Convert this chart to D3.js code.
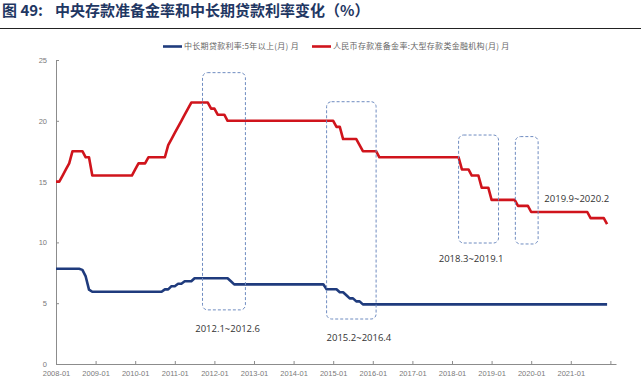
<!DOCTYPE html>
<html>
<head>
<meta charset="utf-8">
<script src="https://cdn.jsdelivr.net/npm/d3@7"></script>
<style>
  body { margin: 0; background: #fff; }
  svg { display: block; }
</style>
</head>
<body>
<script>
// monthly series, 2008-01 .. 2021-12 (one row per year)
var loanRate = [
  7.83,7.83,7.83,7.83,7.83,7.83,7.83,7.83,7.74,7.20,6.12,5.94,
  5.94,5.94,5.94,5.94,5.94,5.94,5.94,5.94,5.94,5.94,5.94,5.94,
  5.94,5.94,5.94,5.94,5.94,5.94,5.94,5.94,5.94,6.14,6.14,6.40,
  6.40,6.60,6.60,6.80,6.80,6.80,7.05,7.05,7.05,7.05,7.05,7.05,
  7.05,7.05,7.05,7.05,7.05,6.80,6.55,6.55,6.55,6.55,6.55,6.55,
  6.55,6.55,6.55,6.55,6.55,6.55,6.55,6.55,6.55,6.55,6.55,6.55,
  6.55,6.55,6.55,6.55,6.55,6.55,6.55,6.55,6.55,6.55,6.15,6.15,
  6.15,6.15,5.90,5.90,5.65,5.40,5.40,5.15,5.15,4.90,4.90,4.90,
  4.90,4.90,4.90,4.90,4.90,4.90,4.90,4.90,4.90,4.90,4.90,4.90,
  4.90,4.90,4.90,4.90,4.90,4.90,4.90,4.90,4.90,4.90,4.90,4.90,
  4.90,4.90,4.90,4.90,4.90,4.90,4.90,4.90,4.90,4.90,4.90,4.90,
  4.90,4.90,4.90,4.90,4.90,4.90,4.90,4.90,4.90,4.90,4.90,4.90,
  4.90,4.90,4.90,4.90,4.90,4.90,4.90,4.90,4.90,4.90,4.90,4.90,
  4.90,4.90,4.90,4.90,4.90,4.90,4.90,4.90,4.90,4.90,4.90,4.90
];
var rrrRate = [
  15.0,15.0,15.5,16.0,16.5,17.5,17.5,17.5,17.5,17.0,17.0,15.5,
  15.5,15.5,15.5,15.5,15.5,15.5,15.5,15.5,15.5,15.5,15.5,15.5,
  16.0,16.5,16.5,16.5,17.0,17.0,17.0,17.0,17.0,17.0,18.0,18.5,
  19.0,19.5,20.0,20.5,21.0,21.5,21.5,21.5,21.5,21.5,21.5,21.0,
  21.0,20.5,20.5,20.5,20.0,20.0,20.0,20.0,20.0,20.0,20.0,20.0,
  20.0,20.0,20.0,20.0,20.0,20.0,20.0,20.0,20.0,20.0,20.0,20.0,
  20.0,20.0,20.0,20.0,20.0,20.0,20.0,20.0,20.0,20.0,20.0,20.0,
  20.0,19.5,19.5,18.5,18.5,18.5,18.5,18.5,18.0,17.5,17.5,17.5,
  17.5,17.5,17.0,17.0,17.0,17.0,17.0,17.0,17.0,17.0,17.0,17.0,
  17.0,17.0,17.0,17.0,17.0,17.0,17.0,17.0,17.0,17.0,17.0,17.0,
  17.0,17.0,17.0,16.0,16.0,16.0,15.5,15.5,15.5,14.5,14.5,14.5,
  13.5,13.5,13.5,13.5,13.5,13.5,13.5,13.5,13.0,13.0,13.0,13.0,
  12.5,12.5,12.5,12.5,12.5,12.5,12.5,12.5,12.5,12.5,12.5,12.5,
  12.5,12.5,12.5,12.5,12.5,12.5,12.0,12.0,12.0,12.0,12.0,11.5
];
var yearLabels = ["2008-01","2009-01","2010-01","2011-01","2012-01","2013-01","2014-01",
                  "2015-01","2016-01","2017-01","2018-01","2019-01","2020-01","2021-01",""];
var yTicks = [0, 5, 10, 15, 20, 25];
var seriesNames = ["中长期贷款利率:5年以上(月) 月", "人民币存款准备金率:大型存款类金融机构(月) 月"];

// highlighted periods: month index range (from 2008-01) and value range
var boxX0 = [44.4, 82.0, 122.0, 139.2];
var boxX1 = [57.4, 97.0, 134.1, 146.1];
var boxY0 = [4.45, 3.70, 9.95, 9.87];
var boxY1 = [23.96, 21.57, 18.83, 18.70];
var boxLabels = ["2012.1~2012.6", "2015.2~2016.4", "2018.3~2019.1", "2019.9~2020.2"];
var labelX = [52.0, 91.8, 125.8, 157.8];
var labelY = [2.9, 2.2, 8.7, 13.6];

(function(){
    var width = 641, height = 386;
    var colors = ["#1f3b7d", "#d0141c"];

    var svg = d3.select("body").append("svg")
        .attr("width", width)
        .attr("height", height);

    // title (label part and text part) + rule
    var titleFont = "'Noto Sans CJK SC', sans-serif";
    svg.append("text")
        .attr("x", 2).attr("y", 16)
        .style("font-family", titleFont)
        .style("font-size", "15px")
        .style("font-weight", "bold")
        .style("fill", "#1f3763")
        .text("图 49:");
    svg.append("text")
        .attr("x", 55).attr("y", 16)
        .style("font-family", titleFont)
        .style("font-size", "15px")
        .style("font-weight", "bold")
        .style("fill", "#1f3763")
        .text("中央存款准备金率和中长期贷款利率变化（%）");
    svg.append("line")
        .attr("x1", 0).attr("x2", width)
        .attr("y1", 28.5).attr("y2", 28.5)
        .attr("stroke", "#222").attr("stroke-width", 1);

    var x = d3.scaleLinear().domain([0, 169.7]).range([56, 616]);
    var y = d3.scaleLinear().domain([0, 25]).range([364, 60]);

    // axes
    var xAxis = d3.axisBottom(x)
        .tickValues(d3.range(0, 169, 12))
        .tickFormat(function(d, i){ return yearLabels[i]; })
        .tickSizeInner(-3).tickSizeOuter(0).tickPadding(7);
    var gx = svg.append("g")
        .attr("transform", "translate(0,364)")
        .call(xAxis);

    var yAxis = d3.axisLeft(y)
        .tickValues(yTicks)
        .tickSizeInner(-3).tickSizeOuter(0).tickPadding(9);
    var gy = svg.append("g")
        .attr("transform", "translate(56,0)")
        .call(yAxis);

    [gx, gy].forEach(function(g){
        g.select(".domain").attr("stroke", "#8c8c8c");
        g.selectAll(".tick line").attr("stroke", "#8c8c8c");
        g.selectAll("text")
            .style("font-family", "'Liberation Sans', Arial, sans-serif")
            .style("font-size", "7.5px")
            .style("fill", "#7a7a7a");
    });

    // lines
    var line = d3.line()
        .x(function(d, i){ return x(i); })
        .y(function(d){ return y(d); });

    [loanRate, rrrRate].forEach(function(s, k){
        svg.append("path")
            .datum(s)
            .attr("fill", "none")
            .attr("stroke", colors[k])
            .attr("stroke-width", 2.6)
            .attr("stroke-linejoin", "round")
            .attr("d", line);
    });

    // dashed boxes
    boxLabels.forEach(function(t, i){
        svg.append("rect")
            .attr("x", x(boxX0[i]))
            .attr("y", y(boxY1[i]))
            .attr("width", x(boxX1[i]) - x(boxX0[i]))
            .attr("height", y(boxY0[i]) - y(boxY1[i]))
            .attr("rx", 5).attr("ry", 5)
            .attr("fill", "none")
            .attr("stroke", "#6f8cc0")
            .attr("stroke-width", 1)
            .attr("stroke-dasharray", "3,2");
        svg.append("text")
            .attr("x", x(labelX[i]))
            .attr("y", y(labelY[i]))
            .attr("text-anchor", "middle")
            .attr("dy", "0.35em")
            .style("font-family", "'Open Sans', sans-serif")
            .style("font-size", "9.5px")
            .style("fill", "#333")
            .text(t);
    });

    // legend
    var legX = [163, 312];
    seriesNames.forEach(function(n, k){
        svg.append("line")
            .attr("x1", legX[k]).attr("x2", legX[k] + 19)
            .attr("y1", 46.5).attr("y2", 46.5)
            .attr("stroke", colors[k]).attr("stroke-width", 2.6);
        svg.append("text")
            .attr("x", legX[k] + 21).attr("y", 46.5)
            .attr("dy", "0.35em")
            .style("font-family", "'Noto Sans CJK SC', sans-serif")
            .style("font-size", "8px")
            .style("letter-spacing", "0.3px")
            .style("fill", "#666")
            .text(n);
    });
})();
</script>
</body>
</html>
